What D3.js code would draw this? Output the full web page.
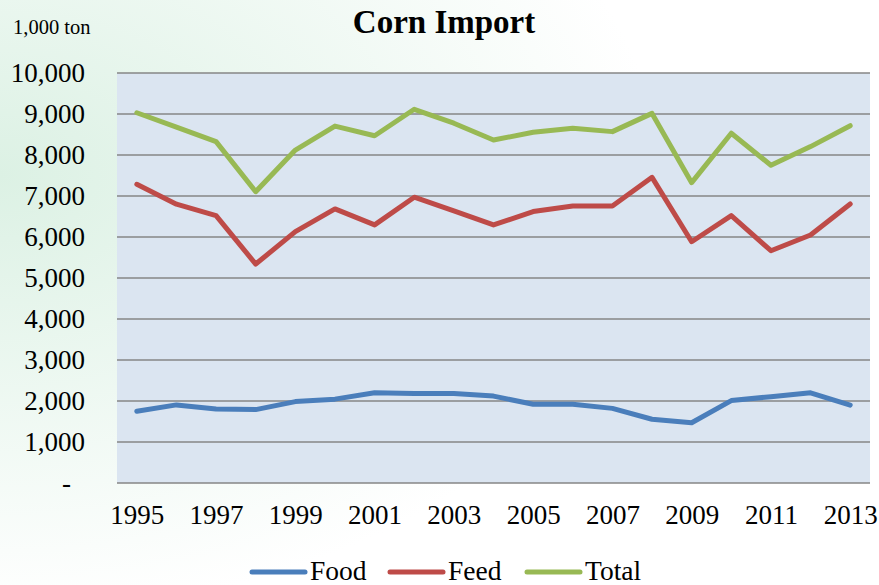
<!DOCTYPE html>
<html>
<head>
<meta charset="utf-8">
<script src="https://cdn.jsdelivr.net/npm/d3@7"></script>
<style>
  html, body { margin: 0; padding: 0; background: #fff; }
  svg text { font-family: "Liberation Serif", "Times New Roman", serif; fill: #000; }
</style>
</head>
<body>
<svg id="chart" width="879" height="585"></svg>
<script>
// data (1,000 ton)
var years = d3.range(1995, 2014);
var food = [1750, 1905, 1805, 1790, 1985, 2045, 2200, 2185, 2180, 2120, 1920, 1920, 1820, 1555, 1470, 2010, 2105, 2200, 1900];
var feed = [7285, 6800, 6520, 5340, 6130, 6685, 6295, 6970, 6635, 6295, 6620, 6755, 6755, 7455, 5885, 6520, 5665, 6050, 6805];
var total = [9030, 8680, 8325, 7105, 8120, 8705, 8470, 9115, 8775, 8365, 8555, 8650, 8570, 9015, 7325, 8530, 7750, 8205, 8715];
var seriesNames = ["Food", "Feed", "Total"];
var seriesColors = ["#4a7ebb", "#be4b48", "#98b954"];
var yTicks = [0, 1000, 2000, 3000, 4000, 5000, 6000, 7000, 8000, 9000, 10000];
var xTickYears = years.filter(function(y) { return y % 2 == 1; });

var svg = d3.select("#chart");
var margin = {top: 73, right: 9, bottom: 102, left: 117},
    width = 879 - margin.left - margin.right,
    height = 585 - margin.top - margin.bottom;

// background tint
var defs = svg.append("defs");
var bg = defs.append("radialGradient").attr("id", "bg")
    .attr("cx", 0).attr("cy", 0.3).attr("r", 0.75)
    .attr("gradientUnits", "objectBoundingBox");
bg.append("stop").attr("offset", "0%").attr("stop-color", "#dcf1e4");
bg.append("stop").attr("offset", "100%").attr("stop-color", "#ffffff");
svg.append("rect").attr("width", 879).attr("height", 585).attr("fill", "url(#bg)");

var g = svg.append("g")
    .attr("transform", "translate(" + margin.left + "," + margin.top + ")");

var x = d3.scalePoint().domain(years).range([0, width]).padding(0.5);
var y = d3.scaleLinear().domain([0, 10000]).range([height, 0]);

// plot area
g.append("rect").attr("width", width).attr("height", height).attr("fill", "#dbe5f1");

// gridlines
g.append("g").selectAll("line")
    .data(yTicks.filter(function(d) { return d > 0; }))
    .enter().append("line")
    .attr("x1", 0).attr("x2", width)
    .attr("y1", function(d) { return y(d); })
    .attr("y2", function(d) { return y(d); })
    .attr("stroke", "#868686").attr("stroke-width", 1.7);

// Y axis labels
var yAxis = g.append("g")
    .call(d3.axisLeft(y).tickValues(yTicks).tickSize(0).tickPadding(32)
        .tickFormat(function(d) { return d == 0 ? "-" : d3.format(",")(d); }));
yAxis.select(".domain").remove();
yAxis.selectAll("text")
    .style("font-family", "Liberation Serif").style("font-size", "27px")
    .attr("fill", "#000")
    .attr("dx", function(d) { return d == 0 ? -14 : 0; });

// X axis
var xAxis = g.append("g")
    .attr("transform", "translate(0," + height + ")")
    .call(d3.axisBottom(x).tickValues(xTickYears).tickSize(0).tickPadding(22)
        .tickFormat(d3.format("d")));
xAxis.select(".domain").remove();
xAxis.selectAll("text")
    .style("font-family", "Liberation Serif").style("font-size", "27px")
    .attr("fill", "#000");
g.append("line")
    .attr("x1", 0).attr("x2", width)
    .attr("y1", height).attr("y2", height)
    .attr("stroke", "#868686").attr("stroke-width", 1.7);

// lines
var line = d3.line()
    .x(function(d, i) { return x(years[i]); })
    .y(function(d) { return y(d); });

[food, feed, total].forEach(function(values, i) {
    g.append("path")
        .datum(values)
        .attr("fill", "none")
        .attr("stroke", seriesColors[i])
        .attr("stroke-width", 5)
        .attr("stroke-linejoin", "round")
        .attr("stroke-linecap", "round")
        .attr("d", line);
});

// title and unit
svg.append("text")
    .attr("x", 444).attr("y", 33)
    .attr("text-anchor", "middle")
    .style("font-size", "33px").style("font-weight", "bold")
    .text("Corn Import");
svg.append("text")
    .attr("x", 13).attr("y", 34)
    .style("font-size", "20.5px")
    .text("1,000 ton");

// legend
var legendX = [252, 390, 527];
var legend = svg.append("g");
seriesNames.forEach(function(name, i) {
    legend.append("line")
        .attr("x1", legendX[i]).attr("x2", legendX[i] + 53)
        .attr("y1", 572).attr("y2", 572)
        .attr("stroke", seriesColors[i]).attr("stroke-width", 5)
        .attr("stroke-linecap", "round");
    legend.append("text")
        .attr("x", legendX[i] + 58).attr("y", 580)
        .style("font-size", "27.5px")
        .text(name);
});
</script>
</body>
</html>
